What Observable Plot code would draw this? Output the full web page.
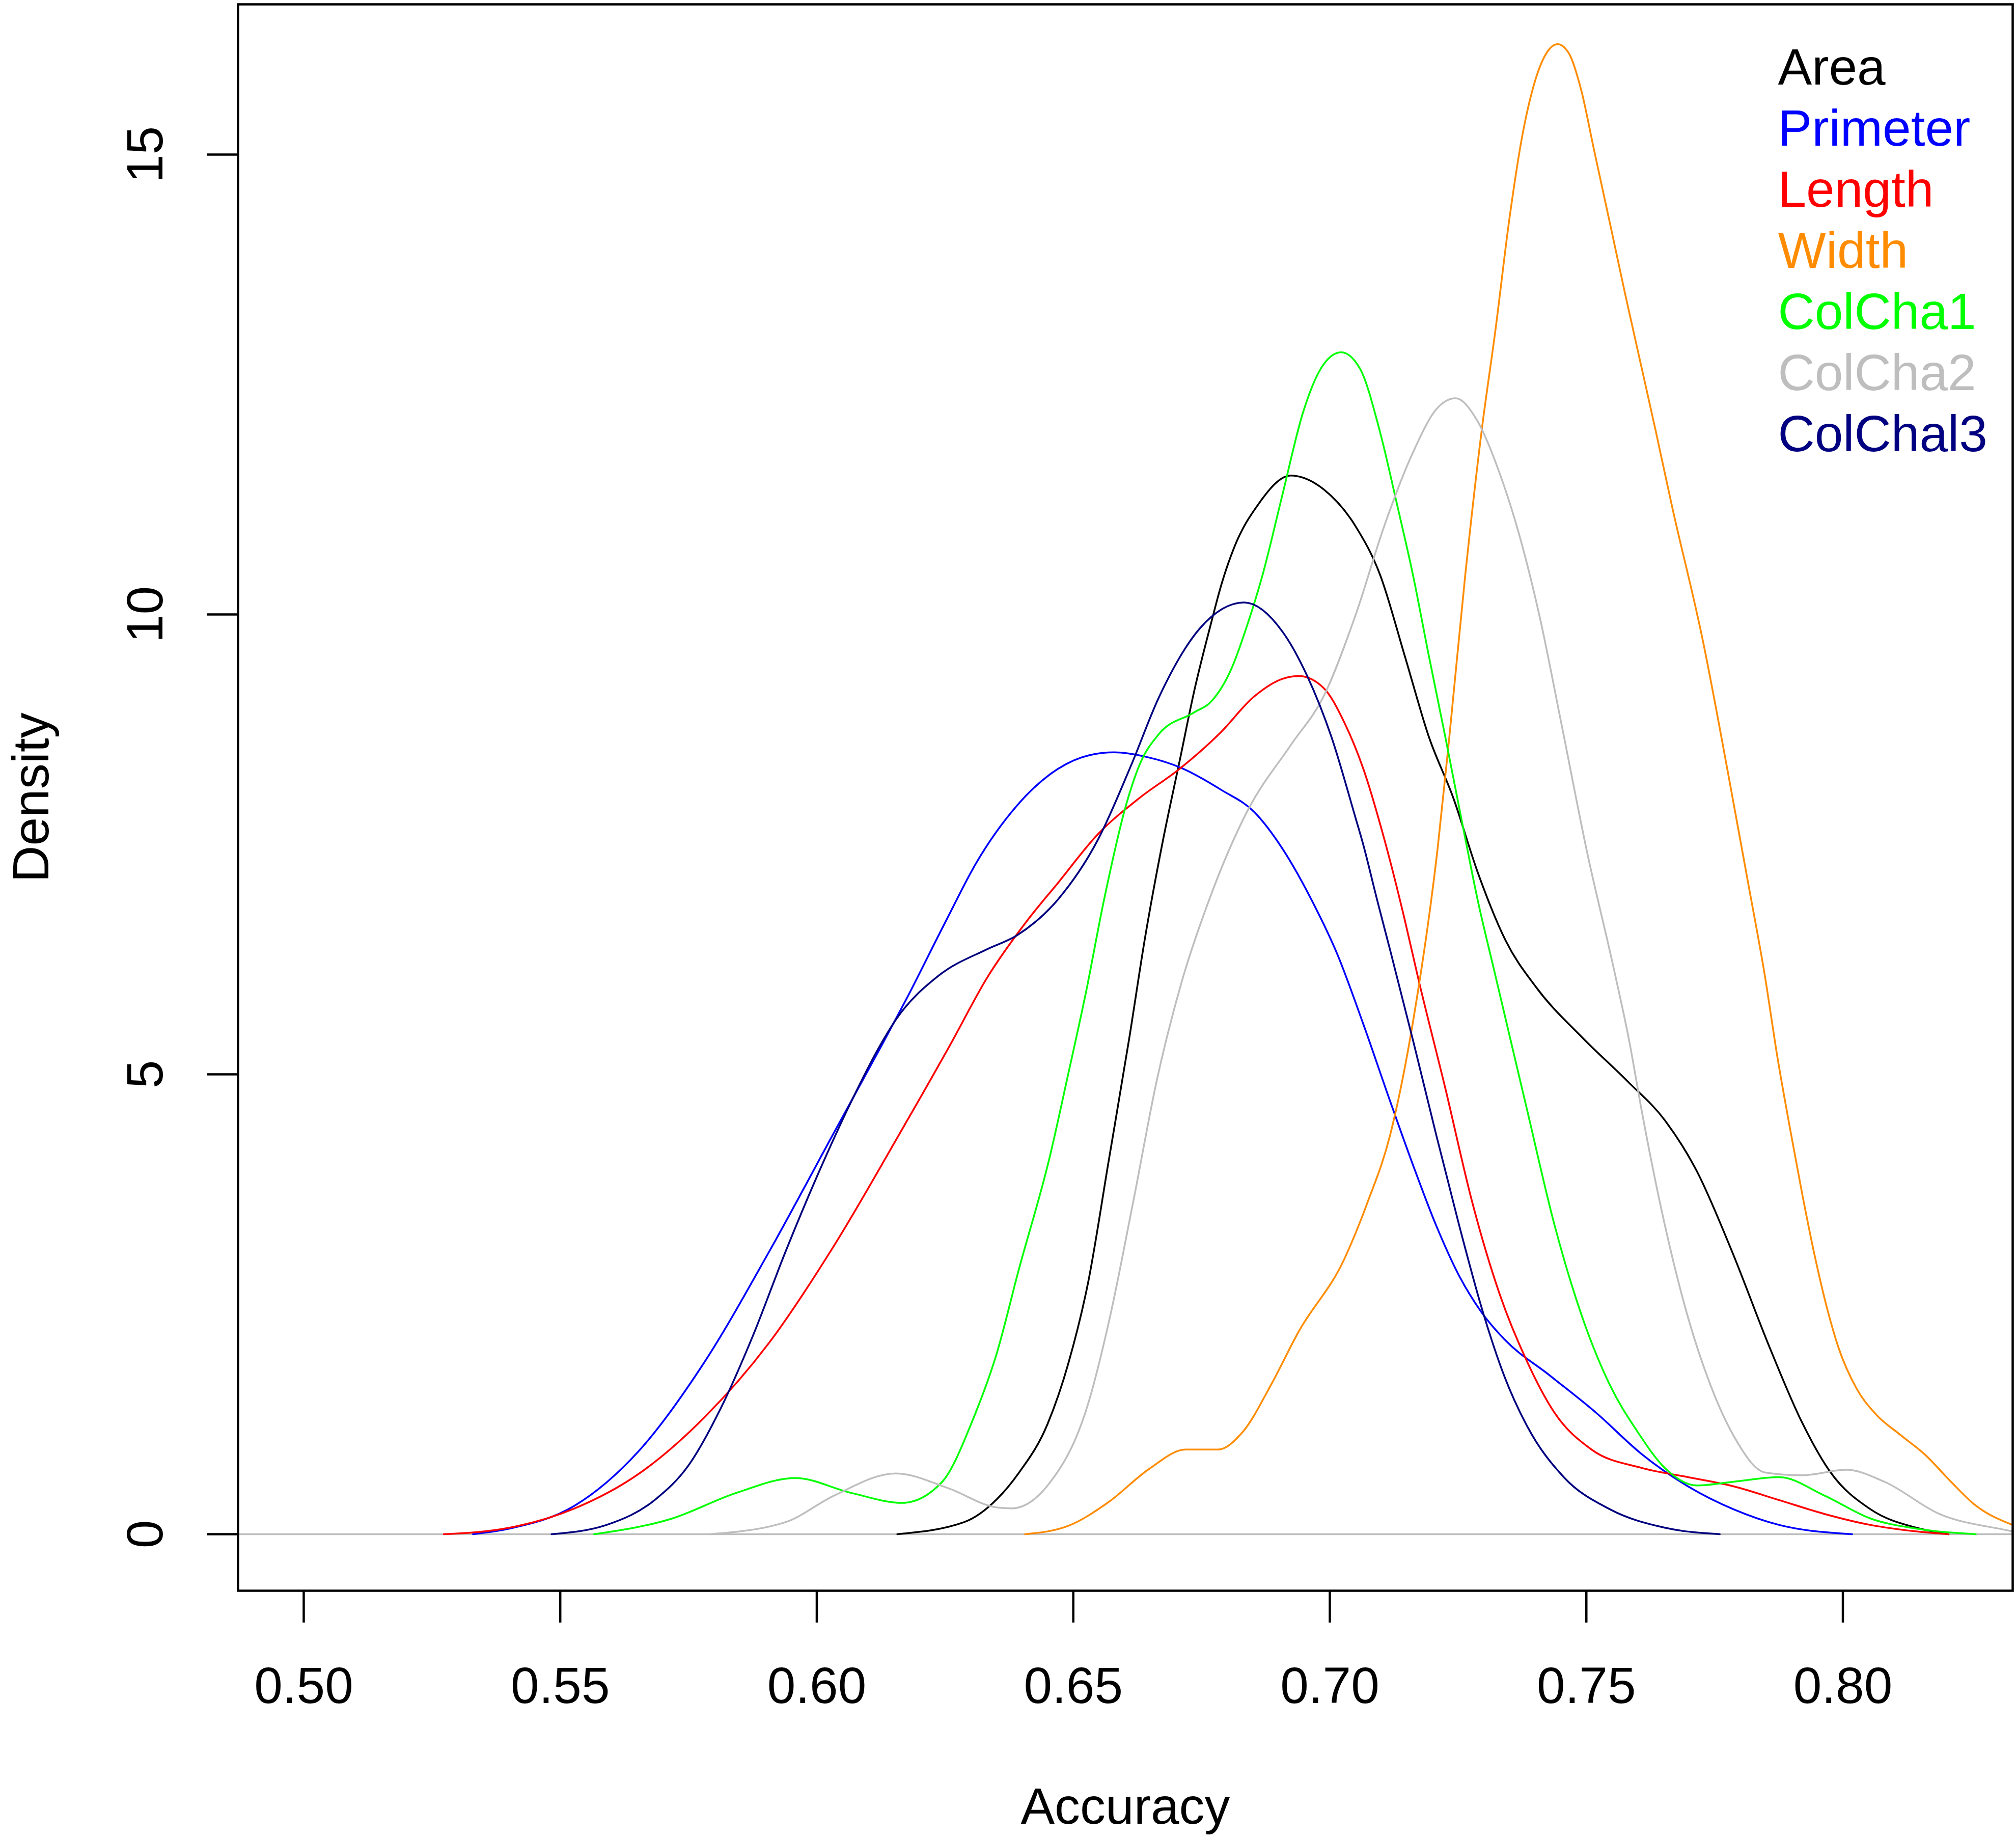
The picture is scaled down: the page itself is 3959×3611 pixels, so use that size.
<!DOCTYPE html>
<html>
<head>
<meta charset="utf-8">
<script src="https://cdn.jsdelivr.net/npm/d3@7"></script>
<script src="https://cdn.jsdelivr.net/npm/@observablehq/plot@0.6"></script>
<style>
  html, body { margin: 0; padding: 0; background: white; }
</style>
</head>
<body>
<div id="chart"></div>
<script>
// ---- data ----
const seriesNames = ["Area", "Primeter", "Length", "Width", "ColCha1", "ColCha2", "ColChal3"];
const seriesColors = ["#000000", "#0000FF", "#FF0000", "#FF8C00", "#00FF00", "#BEBEBE", "#000080"];

const xTicks = [0.50, 0.55, 0.60, 0.65, 0.70, 0.75, 0.80];
const yTicks = [0, 5, 10, 15];

const areaX = [0.6157, 0.6287, 0.6351, 0.6393, 0.645, 0.649, 0.6529, 0.6569, 0.6609, 0.664, 0.6675, 0.6707, 0.6737, 0.6766, 0.679, 0.6813, 0.6861, 0.6924, 0.6988, 0.705, 0.7098, 0.7146, 0.7193, 0.7241, 0.7288, 0.7343, 0.7403, 0.7492, 0.7581, 0.7653, 0.7715, 0.7782, 0.7858, 0.792, 0.7975, 0.8054, 0.8143, 0.8206];
const areaY = [0, 0.13, 0.38, 0.66, 1.2, 1.85, 2.74, 4.06, 5.39, 6.49, 7.55, 8.4, 9.2, 9.85, 10.35, 10.72, 11.2, 11.51, 11.36, 10.96, 10.43, 9.55, 8.67, 8.0, 7.2, 6.45, 5.94, 5.4, 4.92, 4.5, 3.95, 3.1, 2.02, 1.22, 0.68, 0.27, 0.07, 0];

const primeterX = [0.533, 0.5401, 0.5528, 0.5654, 0.5781, 0.5907, 0.6034, 0.6128, 0.6173, 0.6252, 0.6311, 0.639, 0.647, 0.6532, 0.658, 0.6643, 0.6711, 0.6789, 0.6853, 0.6908, 0.6964, 0.7015, 0.7065, 0.7118, 0.7163, 0.7207, 0.7252, 0.7296, 0.734, 0.743, 0.7519, 0.7608, 0.7698, 0.7787, 0.7876, 0.8018];
const primeterY = [0, 0.06, 0.31, 0.91, 1.87, 3.07, 4.37, 5.33, 5.8, 6.67, 7.3, 7.92, 8.32, 8.47, 8.5, 8.45, 8.33, 8.09, 7.85, 7.45, 6.9, 6.3, 5.55, 4.7, 4.0, 3.36, 2.81, 2.41, 2.12, 1.72, 1.32, 0.87, 0.52, 0.27, 0.1, 0];

const lengthX = [0.5273, 0.5401, 0.5528, 0.5654, 0.5781, 0.5907, 0.6034, 0.616, 0.6261, 0.6332, 0.641, 0.647, 0.6548, 0.6628, 0.6707, 0.6786, 0.6853, 0.6908, 0.694, 0.6988, 0.7027, 0.7066, 0.7106, 0.7146, 0.7172, 0.7225, 0.7278, 0.7331, 0.7385, 0.7438, 0.751, 0.7608, 0.7698, 0.7787, 0.7876, 0.7964, 0.8054, 0.8143, 0.8206];
const lengthY = [0, 0.07, 0.28, 0.66, 1.27, 2.08, 3.14, 4.34, 5.33, 6.05, 6.67, 7.08, 7.61, 8.0, 8.32, 8.71, 9.11, 9.3, 9.33, 9.2, 8.84, 8.31, 7.56, 6.68, 6.05, 4.85, 3.6, 2.61, 1.87, 1.32, 0.92, 0.72, 0.62, 0.52, 0.37, 0.22, 0.1, 0.03, 0];

const widthX = [0.6406, 0.649, 0.6569, 0.6648, 0.6719, 0.6782, 0.683, 0.6886, 0.6939, 0.7029, 0.7073, 0.7118, 0.7163, 0.721, 0.7233, 0.7264, 0.7296, 0.7323, 0.735, 0.7375, 0.74, 0.7422, 0.7444, 0.7466, 0.749, 0.7515, 0.7548, 0.7575, 0.7605, 0.7635, 0.7666, 0.7728, 0.7777, 0.7815, 0.7848, 0.7872, 0.7897, 0.7921, 0.7945, 0.7969, 0.7992, 0.8026, 0.8065, 0.8112, 0.8161, 0.8209, 0.8257, 0.8331];
const widthY = [0, 0.09, 0.35, 0.71, 0.92, 0.92, 1.11, 1.63, 2.2, 3.0, 3.6, 4.35, 5.6, 7.45, 8.67, 10.43, 12.0, 13.1, 14.3, 15.2, 15.8, 16.1, 16.2, 16.1, 15.7, 15.05, 14.2, 13.5, 12.75, 12.0, 11.2, 9.69, 8.25, 7.09, 6.07, 5.2, 4.41, 3.69, 3.03, 2.46, 2.02, 1.59, 1.3, 1.08, 0.86, 0.58, 0.32, 0.1];

const colCha1X = [0.5566, 0.5718, 0.5844, 0.5958, 0.6066, 0.6167, 0.6243, 0.6306, 0.6351, 0.6393, 0.6454, 0.649, 0.6525, 0.656, 0.6604, 0.6628, 0.6667, 0.6734, 0.677, 0.6809, 0.684, 0.6869, 0.6908, 0.6948, 0.6988, 0.7022, 0.7058, 0.7098, 0.713, 0.7162, 0.7193, 0.7225, 0.7256, 0.7288, 0.7322, 0.7385, 0.7438, 0.7492, 0.7546, 0.7599, 0.7653, 0.7715, 0.7787, 0.7876, 0.7964, 0.8054, 0.8143, 0.8259];
const colCha1Y = [0, 0.17, 0.45, 0.61, 0.45, 0.34, 0.56, 1.27, 1.97, 2.86, 4.1, 5.0, 5.9, 6.9, 7.95, 8.35, 8.7, 8.93, 9.06, 9.42, 9.9, 10.43, 11.31, 12.2, 12.72, 12.85, 12.68, 11.98, 11.22, 10.43, 9.55, 8.67, 7.79, 6.9, 6.09, 4.6, 3.36, 2.36, 1.62, 1.12, 0.72, 0.53, 0.57, 0.62, 0.42, 0.17, 0.06, 0];

const colCha2X = [0.5793, 0.5939, 0.6034, 0.6154, 0.6256, 0.6351, 0.6379, 0.645, 0.6529, 0.6569, 0.6617, 0.6663, 0.6711, 0.6765, 0.684, 0.6924, 0.6988, 0.705, 0.7106, 0.7162, 0.7209, 0.7245, 0.7288, 0.733, 0.737, 0.741, 0.745, 0.7502, 0.7553, 0.7584, 0.7608, 0.7653, 0.7698, 0.7742, 0.7787, 0.7849, 0.792, 0.8007, 0.8081, 0.8188, 0.8313, 0.8331];
const colCha2Y = [0, 0.13, 0.42, 0.66, 0.5, 0.29, 0.28, 0.53, 1.42, 2.3, 3.62, 4.94, 6.0, 6.9, 7.87, 8.58, 9.11, 9.99, 10.96, 11.76, 12.24, 12.35, 12.1, 11.55, 10.85, 9.95, 8.85, 7.4, 6.16, 5.35, 4.6, 3.36, 2.36, 1.62, 1.07, 0.67, 0.64, 0.7, 0.57, 0.22, 0.05, 0.03];

const colChal3X = [0.5483, 0.559, 0.5686, 0.5749, 0.5813, 0.5875, 0.5939, 0.6002, 0.6066, 0.6122, 0.6155, 0.6237, 0.6332, 0.639, 0.647, 0.6548, 0.6612, 0.6667, 0.6747, 0.6833, 0.6908, 0.6956, 0.7003, 0.705, 0.7065, 0.7092, 0.7118, 0.7163, 0.7207, 0.7252, 0.7296, 0.734, 0.7385, 0.7456, 0.7546, 0.7653, 0.776];
const colChal3Y = [0, 0.1, 0.38, 0.74, 1.37, 2.15, 3.07, 3.91, 4.69, 5.3, 5.6, 6.07, 6.36, 6.51, 6.9, 7.55, 8.35, 9.1, 9.85, 10.13, 9.81, 9.33, 8.67, 7.79, 7.5, 6.9, 6.34, 5.35, 4.35, 3.36, 2.46, 1.72, 1.17, 0.62, 0.27, 0.07, 0];

const seriesX = [areaX, primeterX, lengthX, widthX, colCha1X, colCha2X, colChal3X];
const seriesY = [areaY, primeterY, lengthY, widthY, colCha1Y, colCha2Y, colChal3Y];

// long-format table built from the arrays above
const rows = seriesNames.flatMap((name, i) =>
  seriesX[i].map((x, j) => ({series: name, accuracy: x, density: seriesY[i][j]}))
);

// ---- layout ----
const W = 3959, H = 3611;
const mL = 467, mR = 7, mT = 8, mB = 488;
const FONT = "'Liberation Sans', Arial, Helvetica, sans-serif";

const legendMarks = seriesNames.map((name, i) =>
  Plot.text([name], {
    frameAnchor: "top-left",
    text: d => d,
    dx: 3024,
    dy: 125 + i * 120,
    textAnchor: "start",
    lineAnchor: "middle",
    fill: seriesColors[i],
    fontSize: 100
  })
);

const chart = Plot.plot({
  width: W,
  height: H,
  marginLeft: mL,
  marginRight: mR,
  marginTop: mT,
  marginBottom: mB,
  style: {fontFamily: FONT, fontSize: "100px", background: "white", color: "black"},
  x: {domain: [0.4872, 0.8331], label: null},
  y: {domain: [-0.615, 16.633], label: null},
  color: {domain: seriesNames, range: seriesColors, legend: false},
  marks: [
    Plot.ruleY([0], {stroke: "#BEBEBE", strokeWidth: 3.5}),
    Plot.line(rows, {
      x: "accuracy", y: "density", z: "series", stroke: "series",
      curve: "monotone-x", strokeWidth: 3.5
    }),
    Plot.frame({stroke: "black", strokeWidth: 4.5}),
    Plot.axisX({
      ticks: xTicks, tickSize: 63, tickPadding: 86,
      tickFormat: d3.format(".2f"), fontSize: 100,
      strokeWidth: 4.5, label: null
    }),
    Plot.axisY({
      ticks: yTicks, tickSize: 61, tickFormat: () => "",
      strokeWidth: 4.5, label: null
    }),
    Plot.text(yTicks, {
      y: d => d, text: d => String(d),
      frameAnchor: "left", dx: -181, rotate: -90,
      textAnchor: "middle", lineAnchor: "middle", fontSize: 100
    }),
    Plot.text(["Accuracy"], {
      text: d => d, frameAnchor: "bottom", dy: 425,
      lineAnchor: "middle", fontSize: 100
    }),
    Plot.text(["Density"], {
      text: d => d, frameAnchor: "left", dx: -405, rotate: -90,
      textAnchor: "middle", lineAnchor: "middle", fontSize: 100
    }),
    ...legendMarks
  ]
});

document.getElementById("chart").appendChild(chart);
</script>
</body>
</html>
